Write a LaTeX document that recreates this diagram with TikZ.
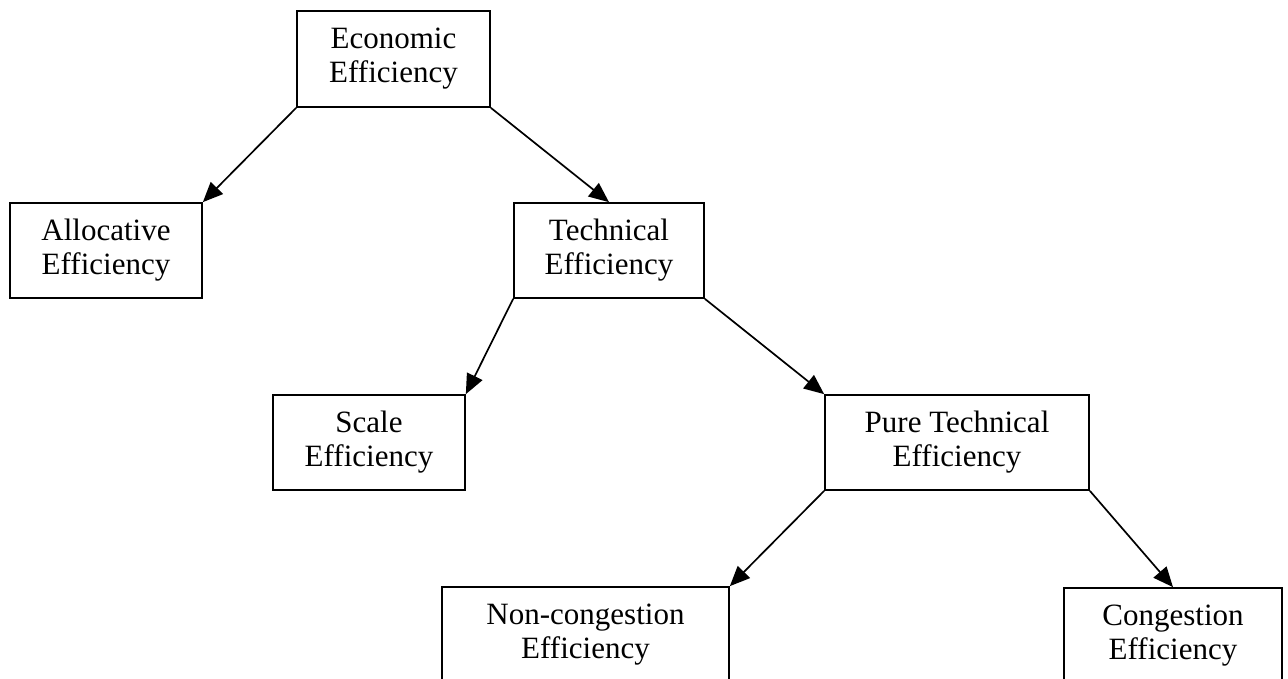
\documentclass[tikz,border=0pt]{standalone}
\usepackage{fontspec}
\setmainfont{Liberation Serif}
\usetikzlibrary{arrows.meta,positioning}

\begin{document}
\begin{tikzpicture}[x=1pt,y=-1pt,
    effbox/.style={draw,line width=1.7pt,align=center,inner sep=0pt,
        minimum height=95pt,font=\fontsize{31}{34}\selectfont},
    effarrow/.style={line width=1.7pt,-{Triangle[length=20pt,width=17pt]}}]
    \useasboundingbox (0,0) rectangle (1288,679);

    % top level
    \node[effbox,minimum width=193pt,minimum height=96pt] (econ) at (393.5,59) {Economic\\Efficiency};

    % second level
    \node[effbox,minimum width=192pt] (alloc) at (106,250.5) {Allocative\\Efficiency};
    \node[effbox,minimum width=190pt] (tech) at (609,250.5) {Technical\\Efficiency};

    % third level
    \node[effbox,minimum width=192pt] (scale) at (369,442.5) {Scale\\Efficiency};
    \node[effbox,minimum width=264pt] (pure) at (957,442.5) {Pure Technical\\Efficiency};

    % bottom level
    \node[effbox,minimum width=287pt] (noncong) at (585.5,634.5) {Non-congestion\\Efficiency};
    \node[effbox,minimum width=218pt] (cong) at (1173,635.5) {Congestion\\Efficiency};

    \draw[effarrow] (econ.south west) -- (alloc.north east);
    \draw[effarrow] (econ.south east) -- (tech.north);
    \draw[effarrow] (tech.south west) -- (scale.north east);
    \draw[effarrow] (tech.south east) -- (pure.north west);
    \draw[effarrow] (pure.south west) -- (noncong.north east);
    \draw[effarrow] (pure.south east) -- (cong.north);
\end{tikzpicture}
\end{document}
